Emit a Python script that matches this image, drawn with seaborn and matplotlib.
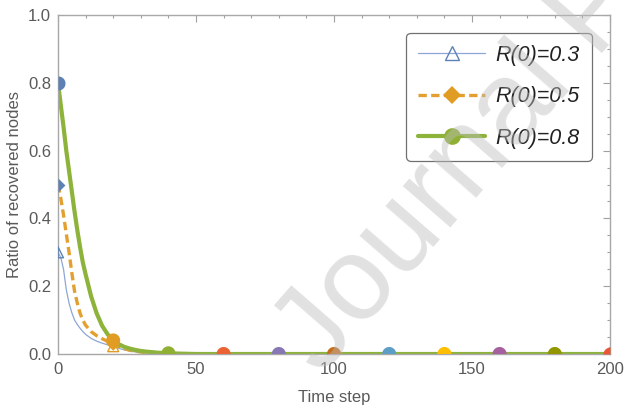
import matplotlib
matplotlib.use("Agg")
import matplotlib.pyplot as plt
import seaborn as sns
import pandas as pd
import numpy as np
from matplotlib.lines import Line2D
from matplotlib.path import Path
from matplotlib.ticker import MultipleLocator

# ---------------- data ----------------
time_steps = [0, 1, 2, 3, 4, 5, 6, 7, 8, 9, 10,
              12, 14, 16, 18, 20, 22, 24, 26, 28, 30, 32,
              36, 40,
              50, 60, 70, 80, 90, 100, 110, 120, 130, 140, 150, 160, 170, 180, 190, 200]

ratio_r03 = [0.30, 0.285, 0.25, 0.19, 0.15, 0.122, 0.10, 0.087, 0.076, 0.066, 0.058,
             0.046, 0.038, 0.032, 0.027, 0.023, 0.017, 0.012, 0.009, 0.006, 0.004, 0.003,
             0.001, 0.0,
             0, 0, 0, 0, 0, 0, 0, 0, 0, 0, 0, 0, 0, 0, 0, 0]

ratio_r05 = [0.50, 0.46, 0.41, 0.355, 0.30, 0.24, 0.185, 0.15, 0.12, 0.10, 0.085,
             0.066, 0.054, 0.045, 0.037, 0.030, 0.022, 0.016, 0.011, 0.008, 0.006, 0.004,
             0.002, 0.001,
             0, 0, 0, 0, 0, 0, 0, 0, 0, 0, 0, 0, 0, 0, 0, 0]

ratio_r08 = [0.80, 0.735, 0.67, 0.60, 0.54, 0.48, 0.42, 0.365, 0.315, 0.27, 0.235,
             0.17, 0.12, 0.083, 0.058, 0.040, 0.029, 0.021, 0.016, 0.012, 0.009, 0.007,
             0.004, 0.002,
             0, 0, 0, 0, 0, 0, 0, 0, 0, 0, 0, 0, 0, 0, 0, 0]

series_labels = ["R(0)=0.3", "R(0)=0.5", "R(0)=0.8"]
marker_steps = [0, 20, 40, 60, 80, 100, 120, 140, 160, 180, 200]
point_palette = ["#5E81B5", "#E19C24", "#8FB032", "#EB6235", "#8778B3", "#C56E1A",
                 "#5D9EC7", "#FFBF00", "#A5609D", "#929600", "#E95536"]

x_label = "Time step"
y_label = "Ratio of recovered nodes"
watermark = "Journal Pre-proof"
X_MIN, X_MAX, Y_MIN, Y_MAX = 0, 200, 0.0, 1.0

# ---------------- styling ----------------
sns.set_theme(style="white")
plt.rcParams["font.family"] = ["Liberation Sans", "DejaVu Sans"]

df = pd.DataFrame({"t": time_steps, series_labels[0]: ratio_r03,
                   series_labels[1]: ratio_r05, series_labels[2]: ratio_r08})
marks = df[df["t"].isin(marker_steps)].reset_index(drop=True)
marks["pt"] = [str(i) for i in range(len(marks))]
pal = {p: c for p, c in zip(marks["pt"], point_palette)}

fig = plt.figure(figsize=(6.26, 4.08), dpi=100)
ax = fig.add_axes([58 / 626, 1 - 354 / 408, 552 / 626, 339 / 408])

dash_pat = (0, (2.5, 1.3))
line_styles = [
    dict(color="#8DA6D6", lw=0.9, linestyle="-"),
    dict(color="#E3A030", lw=2.4, linestyle=dash_pat),
    dict(color="#8DB33A", lw=3.0, linestyle="-"),
]
for lab, st in zip(series_labels, line_styles):
    sns.lineplot(data=df, x="t", y=lab, ax=ax, color=st["color"], lw=st["lw"],
                 linestyle=st["linestyle"], zorder=2)

# ---- marker shapes, cut at the frame edges (points sitting on the frame show half) ----
_ang = np.linspace(np.pi / 2, np.pi / 2 + 2 * np.pi, 73)[:-1]
shape_polys = {
    "circle": list(zip(np.cos(_ang), np.sin(_ang))),
    "triangle": [(0.0, 1.0), (-1.0, -1.0), (1.0, -1.0)],
    "diamond": [(0.0, 1.0), (1.0, 0.0), (0.0, -1.0), (-1.0, 0.0)],
}


def cut_poly(verts, keep):
    for axis, sign in keep:
        out = []
        n = len(verts)
        for i in range(n):
            a, b = verts[i], verts[(i + 1) % n]
            fa, fb = a[axis] * sign, b[axis] * sign
            if fa >= -1e-12:
                out.append(a)
            if (fa >= -1e-12) != (fb >= -1e-12):
                tt = fa / (fa - fb)
                out.append((a[0] + tt * (b[0] - a[0]), a[1] + tt * (b[1] - a[1])))
        verts = out
    return verts


def marker_path(shape, keep):
    v = cut_poly(shape_polys[shape], keep)
    return Path(list(v) + [v[0]], closed=True)


def edge_key(tval, yval):
    keep = []
    if tval == X_MIN:
        keep.append((0, 1))
    if tval == X_MAX:
        keep.append((0, -1))
    if yval == Y_MIN:
        keep.append((1, 1))
    return tuple(keep)


marker_shapes = [("triangle", 62, True), ("diamond", 100, False), ("circle", 102, False)]
for lab, (shape, size, hollow) in zip(series_labels, marker_shapes):
    keys = [edge_key(tv, yv) for tv, yv in zip(marks["t"], marks[lab])]
    for key in dict.fromkeys(keys):
        sub = marks[[k == key for k in keys]]
        n_before = len(ax.collections)
        sns.scatterplot(data=sub, x="t", y=lab, hue="pt", palette=pal,
                        marker=marker_path(shape, key), s=size,
                        linewidth=1.0 if hollow else 0, legend=False, ax=ax, zorder=3)
        if hollow:
            coll = ax.collections[n_before]
            cols = coll.get_facecolors()
            coll.set_edgecolors(cols)
            coll.set_facecolor("none")
            coll.set_linewidth(1.0)

ax.set_xlim(X_MIN, X_MAX)
ax.set_ylim(Y_MIN, Y_MAX)
ax.xaxis.set_major_locator(MultipleLocator(50))
ax.xaxis.set_minor_locator(MultipleLocator(10))
ax.yaxis.set_major_locator(MultipleLocator(0.2))
ax.yaxis.set_minor_locator(MultipleLocator(0.05))
ax.tick_params(which="both", direction="in", top=True, right=True,
               color="#A0A0A0", labelcolor="#5A5A5A", labelsize=12, width=0.8)
ax.tick_params(which="major", length=5)
ax.tick_params(axis="x", which="major", pad=6)
ax.tick_params(axis="y", which="major", pad=5)
ax.tick_params(which="minor", length=2.5)
for sp in ax.spines.values():
    sp.set_color("#A8A8A8")
    sp.set_linewidth(1.0)

ax.set_xlabel(x_label, fontsize=12, color="#5A5A5A", labelpad=9)
ax.set_ylabel(y_label, fontsize=12, color="#5A5A5A", labelpad=4)

handles = [
    Line2D([], [], color="#8DA6D6", lw=0.9, marker="^", markersize=10,
           markerfacecolor="none", markeredgecolor="#5E81B5", markeredgewidth=1.0),
    Line2D([], [], color="#E3A030", lw=2.4, linestyle=dash_pat, marker="D",
           markersize=9, markerfacecolor="#E19C24", markeredgewidth=0),
    Line2D([], [], color="#8DB33A", lw=3.0, marker="o", markersize=12,
           markerfacecolor="#8FB032", markeredgewidth=0),
]
leg = ax.legend(handles, series_labels, loc="upper right",
                bbox_to_anchor=(0.967, 0.947), borderaxespad=0,
                prop=dict(size=15.5, style="italic"), handlelength=3.1,
                handletextpad=0.5, labelspacing=0.95, borderpad=0.55,
                frameon=True, fancybox=True, framealpha=1)
leg.get_frame().set_edgecolor("#707070")
leg.get_frame().set_linewidth(0.9)
for txt in leg.get_texts():
    txt.set_color("#222222")

fig.text(0.513, 0.076, watermark, rotation=49, rotation_mode="anchor",
         ha="left", va="baseline", fontsize=85, color="#BEBEBE", alpha=0.45,
         zorder=10)

fig.savefig("out.png", dpi=100)
